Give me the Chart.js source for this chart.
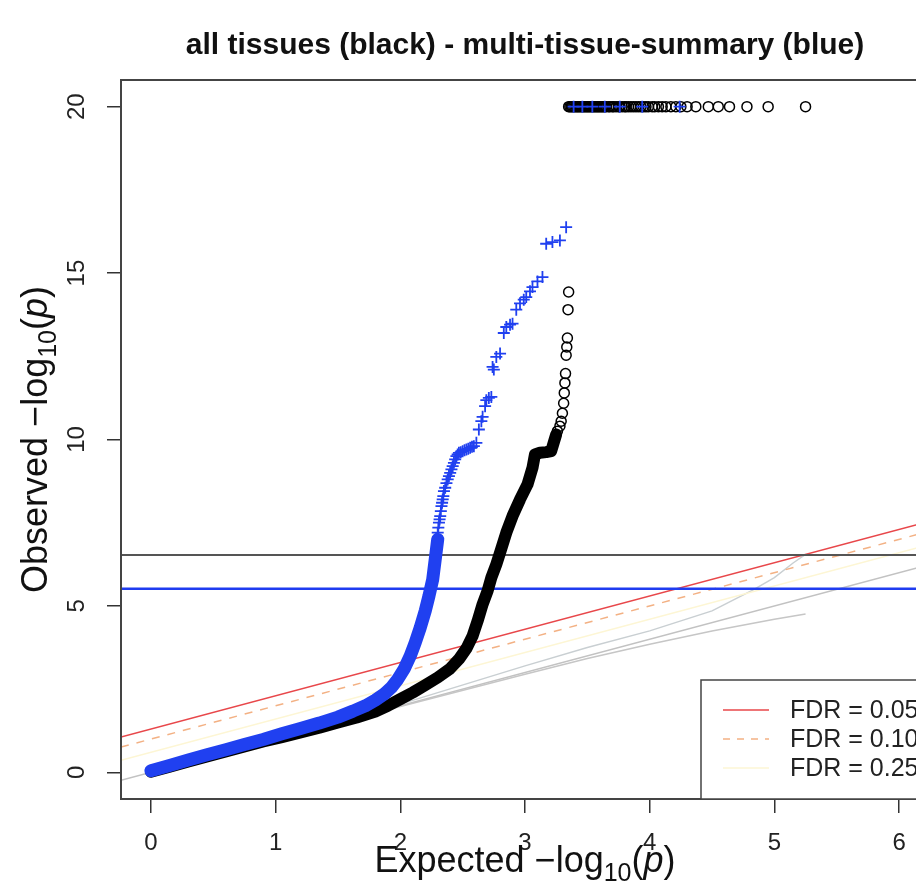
<!DOCTYPE html>
<html>
<head>
<meta charset="utf-8">
<script src="https://cdn.jsdelivr.net/npm/chart.js@4.4.0/dist/chart.umd.min.js"></script>
<style>
html, body { margin: 0; padding: 0; background: #fff; overflow: hidden; }
#wrap { position: relative; width: 960px; height: 885px; }
</style>
</head>
<body>
<div id="wrap"><canvas id="qqChart"></canvas></div>
<script>
// axes
var xTicks = [0, 1, 2, 3, 4, 5, 6];
var yTicks = [0, 5, 10, 15, 20];
var xRange = [-0.24, 6.24];
var yRange = [-0.8, 20.8];

// all tissues (black) - dense part drawn as a band
var blackPathX = [0, 0.15, 0.3, 0.45, 0.6, 0.75, 0.9, 1.05, 1.2, 1.35, 1.5, 1.65, 1.8, 1.9, 2.0, 2.1, 2.2, 2.3, 2.4, 2.47, 2.53, 2.58, 2.62, 2.66, 2.7, 2.73, 2.77, 2.8, 2.85, 2.9, 2.96, 3.02, 3.06, 3.08, 3.12, 3.17, 3.21, 3.23, 3.25];
var blackPathY = [0.02, 0.17, 0.33, 0.48, 0.63, 0.78, 0.93, 1.06, 1.2, 1.34, 1.5, 1.65, 1.83, 2.0, 2.2, 2.4, 2.62, 2.85, 3.12, 3.4, 3.72, 4.1, 4.55, 5.05, 5.45, 5.85, 6.25, 6.6, 7.2, 7.7, 8.2, 8.65, 9.15, 9.55, 9.6, 9.62, 9.65, 9.9, 10.15];
// all tissues - single circles
var blackTailX = [3.26, 3.28, 3.29, 3.3, 3.31, 3.315, 3.32, 3.325, 3.33, 3.335, 3.34, 3.345, 3.35];
var blackTailY = [10.25, 10.4, 10.55, 10.79, 11.09, 11.4, 11.7, 11.98, 12.53, 12.78, 13.05, 13.9, 14.43];
// all tissues - capped at 20
var obsCap = 20;
var blackTopX = [5.25, 4.95, 4.78, 4.64, 4.55, 4.47, 4.37, 4.3, 4.25, 4.21, 4.17, 4.13, 4.1, 4.07, 4.04, 4.02, 3.99, 3.97, 3.95, 3.93, 3.91, 3.89, 3.87, 3.85, 3.83, 3.81, 3.8, 3.78, 3.76, 3.75, 3.73, 3.71, 3.7, 3.68, 3.67, 3.65, 3.64, 3.63, 3.62, 3.61, 3.6, 3.59, 3.58, 3.57, 3.56, 3.55, 3.54, 3.53, 3.52, 3.51, 3.5, 3.49, 3.48, 3.47, 3.46, 3.45, 3.44, 3.43, 3.42, 3.41, 3.4, 3.39, 3.38, 3.37, 3.36, 3.35];

// multi-tissue-summary (blue) - dense part
var bluePathX = [0, 0.15, 0.3, 0.45, 0.6, 0.75, 0.9, 1.05, 1.2, 1.35, 1.5, 1.62, 1.72, 1.8, 1.87, 1.93, 1.98, 2.03, 2.08, 2.12, 2.16, 2.2, 2.23, 2.26, 2.28, 2.3];
var bluePathY = [0.05, 0.21, 0.37, 0.53, 0.68, 0.84, 0.99, 1.16, 1.32, 1.48, 1.66, 1.84, 2.0, 2.17, 2.35, 2.56, 2.8, 3.1, 3.5, 3.9, 4.35, 4.85, 5.3, 5.8, 6.4, 7.0];
// multi-tissue-summary - single crosses
var blueTailX = [2.3, 2.305, 2.31, 2.315, 2.32, 2.325, 2.33, 2.335, 2.34, 2.345, 2.35, 2.36, 2.37, 2.38, 2.39, 2.4, 2.41, 2.42, 2.43, 2.44, 2.45, 2.46, 2.47, 2.485, 2.5, 2.515, 2.53, 2.545, 2.56, 2.575, 2.59, 2.61, 2.63, 2.65, 2.66, 2.68, 2.69, 2.71, 2.73, 2.74, 2.75, 2.77, 2.8, 2.83, 2.85, 2.88, 2.9, 2.93, 2.96, 2.99, 3.01, 3.04, 3.06, 3.1, 3.14, 3.17, 3.22, 3.28, 3.33, 3.39, 3.46, 3.54, 3.64, 3.76, 3.94, 4.24];
var blueTailY = [7.2, 7.35, 7.5, 7.6, 7.7, 7.85, 8.0, 8.1, 8.2, 8.3, 8.45, 8.55, 8.69, 8.8, 8.9, 9.0, 9.1, 9.2, 9.3, 9.4, 9.5, 9.55, 9.6, 9.62, 9.65, 9.68, 9.7, 9.72, 9.75, 9.78, 9.8, 9.9, 10.3, 10.55, 10.68, 11.0, 11.18, 11.25, 11.28, 12.18, 12.1, 12.48, 12.58, 13.2, 13.38, 13.45, 13.48, 13.9, 14.09, 14.2, 14.28, 14.45, 14.58, 14.75, 14.88, 15.88, 15.93, 15.98, 16.38, 20, 20, 20, 20, 20, 20, 20];

// null expectation bands (grey)
var ciUpperX = [0, 1, 2, 3, 3.5, 4, 4.5, 4.83, 5.0, 5.15, 5.25];
var ciUpperY = [0, 1.0, 2.05, 3.2, 3.75, 4.25, 4.85, 5.48, 5.85, 6.29, 6.55];
var ciLowerX = [0, 1, 2, 3, 3.5, 4, 4.5, 5.0, 5.25];
var ciLowerY = [0, 1.0, 1.98, 2.95, 3.42, 3.85, 4.25, 4.6, 4.76];

// FDR lines: intercepts of slope-1 lines
var fdrLabels = ['FDR = 0.05', 'FDR = 0.10', 'FDR = 0.25'];
var fdrIntercepts = [1.3, 1.0, 0.6];
var fdrColors = ['#e8474a', '#f3b184', '#fdf6d4'];

// Bonferroni lines
var bonfBlack = 6.53;
var bonfBlue = 5.52;

function pts(xs, ys) {
    var out = [];
    for (var i = 0; i < xs.length; i++) {
        out.push({ x: xs[i], y: ys[i] });
    }
    return out;
}
function capped(xs) {
    var out = [];
    for (var i = 0; i < xs.length; i++) {
        out.push({ x: xs[i], y: obsCap });
    }
    return out;
}
function lineDs(data, color, width, dash, order) {
    return {
        data: data, showLine: true, borderColor: color, borderWidth: width,
        borderDash: dash || [], pointRadius: 0, fill: false, order: order
    };
}

var FONT = '"Liberation Sans", Arial, sans-serif';

function drawParts(ctx, parts, cx, by) {
    var total = 0;
    parts.forEach(function (p) {
        ctx.font = p.f;
        p.w = ctx.measureText(p.t).width;
        total += p.w;
    });
    var x = cx - total / 2;
    ctx.textAlign = 'left';
    ctx.textBaseline = 'alphabetic';
    parts.forEach(function (p) {
        ctx.font = p.f;
        ctx.fillText(p.t, x, by + (p.dy || 0));
        x += p.w;
    });
}
function mathLabel(word) {
    return [
        { t: word + ' \u2212log', f: '36px ' + FONT },
        { t: '10', f: '25px ' + FONT, dy: 9 },
        { t: '(', f: '36px ' + FONT },
        { t: 'p', f: 'italic 36px ' + FONT },
        { t: ')', f: '36px ' + FONT }
    ];
}

var qqDecor = {
    id: 'qqDecor',
    afterDraw: function (chart) {
        var ctx = chart.ctx;
        var a = chart.chartArea;
        var ys = chart.scales.y;
        ctx.save();
        // box
        ctx.strokeStyle = '#444';
        ctx.lineWidth = 2;
        ctx.strokeRect(a.left, a.top, a.right - a.left, a.bottom - a.top);

        // y tick labels (rotated, like R)
        ctx.fillStyle = '#222';
        ctx.font = '24px ' + FONT;
        ctx.textAlign = 'center';
        ctx.textBaseline = 'middle';
        yTicks.forEach(function (v) {
            ctx.save();
            ctx.translate(a.left - 44, ys.getPixelForValue(v));
            ctx.rotate(-Math.PI / 2);
            ctx.fillText(String(v), 0, 0);
            ctx.restore();
        });

        // main title
        ctx.fillStyle = '#111';
        ctx.font = 'bold 30px ' + FONT;
        ctx.textAlign = 'center';
        ctx.textBaseline = 'alphabetic';
        ctx.fillText('all tissues (black) - multi-tissue-summary (blue)', (a.left + a.right) / 2, 54);

        // axis titles
        drawParts(ctx, mathLabel('Expected'), (a.left + a.right) / 2, a.bottom + 73);
        ctx.save();
        ctx.translate(a.left - 74, (a.top + a.bottom) / 2);
        ctx.rotate(-Math.PI / 2);
        drawParts(ctx, mathLabel('Observed'), 0, 0);
        ctx.restore();

        // legend (bottom right inside plot)
        var lw = 228, lh = 119;
        var lx = a.right - lw, ly = a.bottom - lh;
        ctx.fillStyle = '#fff';
        ctx.fillRect(lx, ly, lw, lh);
        ctx.strokeStyle = '#444';
        ctx.lineWidth = 1.5;
        ctx.strokeRect(lx, ly, lw, lh);
        ctx.font = '25px ' + FONT;
        ctx.textBaseline = 'middle';
        ctx.textAlign = 'left';
        for (var i = 0; i < fdrLabels.length; i++) {
            var rowY = ly + 30 + i * 29;
            ctx.strokeStyle = fdrColors[i];
            ctx.lineWidth = 1.5;
            ctx.setLineDash(i === 1 ? [7, 7] : []);
            ctx.beginPath();
            ctx.moveTo(lx + 22, rowY);
            ctx.lineTo(lx + 68, rowY);
            ctx.stroke();
            ctx.setLineDash([]);
            ctx.fillStyle = '#222';
            ctx.fillText(fdrLabels[i], lx + 89, rowY + 1);
        }
        ctx.restore();
    }
};

var datasets = [];
// grey null lines
datasets.push(lineDs(pts(ciUpperX, ciUpperY), '#c9cfd2', 1.5, null, 30));
datasets.push(lineDs(pts(ciLowerX, ciLowerY), '#c6c6c6', 1.5, null, 30));
datasets.push(lineDs(pts(xRange, xRange), '#c2c2c2', 1.5, null, 30));
// FDR lines
for (var k = 0; k < fdrIntercepts.length; k++) {
    datasets.push(lineDs(pts(xRange, [xRange[0] + fdrIntercepts[k], xRange[1] + fdrIntercepts[k]]),
        fdrColors[k], 1.5, k === 1 ? [8, 8] : null, 25));
}
// Bonferroni lines
datasets.push(lineDs(pts(xRange, [bonfBlack, bonfBlack]), '#555', 2, null, 20));
datasets.push(lineDs(pts(xRange, [bonfBlue, bonfBlue]), '#1f3cf0', 2.5, null, 20));
// black series
datasets.push({
    data: pts(blackPathX, blackPathY), showLine: true, borderColor: '#000', borderWidth: 12,
    borderCapStyle: 'round', borderJoinStyle: 'round', pointRadius: 0, order: 10
});
datasets.push({
    data: pts(blackTailX, blackTailY).concat(capped(blackTopX)), showLine: false,
    pointStyle: 'circle', pointRadius: 5, borderWidth: 1.5, borderColor: '#000',
    backgroundColor: 'rgba(0,0,0,0)', order: 9
});
// blue series
datasets.push({
    data: pts(bluePathX, bluePathY), showLine: true, borderColor: '#2040f0', borderWidth: 13,
    borderCapStyle: 'round', borderJoinStyle: 'round', pointRadius: 0, order: 5
});
datasets.push({
    data: pts(blueTailX, blueTailY), showLine: false,
    pointStyle: 'cross', pointRadius: 6, borderWidth: 1.8, borderColor: '#2040f0',
    backgroundColor: '#2040f0', order: 4
});

new Chart(document.getElementById('qqChart'), {
    type: 'scatter',
    data: { datasets: datasets },
    options: {
        responsive: true,
        maintainAspectRatio: false,
        animation: false,
        events: [],
        layout: { padding: { top: 80, right: 31, left: 0, bottom: 0 } },
        plugins: { legend: { display: false }, tooltip: { enabled: false } },
        scales: {
            x: {
                type: 'linear', min: xRange[0], max: xRange[1],
                afterBuildTicks: function (s) { s.ticks = xTicks.map(function (v) { return { value: v }; }); },
                afterFit: function (s) { s.height = 86; },
                grid: { drawOnChartArea: false, drawTicks: true, tickLength: 14, color: '#333', lineWidth: 1.5 },
                border: { display: false },
                ticks: { font: { family: FONT, size: 24 }, color: '#222', padding: 16, maxRotation: 0 }
            },
            y: {
                type: 'linear', min: yRange[0], max: yRange[1],
                afterBuildTicks: function (s) { s.ticks = yTicks.map(function (v) { return { value: v }; }); },
                afterFit: function (s) { s.width = 121; },
                grid: { drawOnChartArea: false, drawTicks: true, tickLength: 14, color: '#333', lineWidth: 1.5 },
                border: { display: false },
                ticks: { display: false }
            }
        }
    },
    plugins: [qqDecor]
});
</script>
</body>
</html>
